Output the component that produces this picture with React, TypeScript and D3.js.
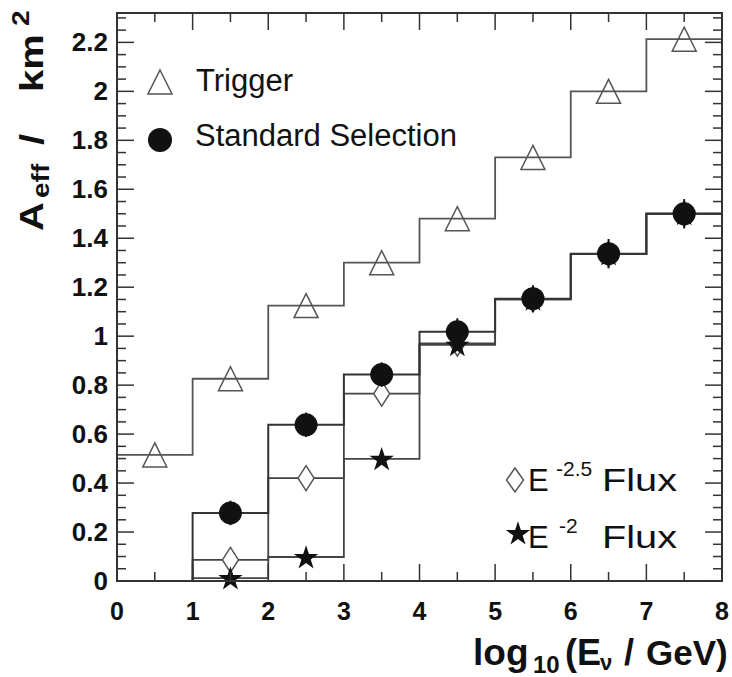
import * as d3 from 'd3';

// bin lower edges of log10(E/GeV), one bin per decade
const binEdges = [0, 1, 2, 3, 4, 5, 6, 7, 8];
const triggerVals = [0.515, 0.826, 1.125, 1.3, 1.48, 1.73, 2.0, 2.213];
const standardVals = [0, 0.278, 0.638, 0.843, 1.018, 1.153, 1.337, 1.5];
const standardErr = [0, 0.05, 0.05, 0.05, 0.055, 0.055, 0.06, 0.06];
const flux25Vals = [0, 0.086, 0.42, 0.765, 0.97, 1.15, 1.335, 1.5];
const flux2Vals = [0, 0.012, 0.098, 0.499, 0.965, 1.15, 1.335, 1.5];

const xTicks = [0, 1, 2, 3, 4, 5, 6, 7, 8];
const yTicks = [0, 0.2, 0.4, 0.6, 0.8, 1, 1.2, 1.4, 1.6, 1.8, 2, 2.2];

const FONT = '"Liberation Sans", Arial, Helvetica, sans-serif';

export default function App() {
    const width = 732;
    const height = 677;
    const left = 117, right = 722, top = 13, bottom = 581;

    const xScale = d3.scaleLinear().domain([0, 8]).range([left, right]);
    const yScale = d3.scaleLinear().domain([0, 2.32]).range([bottom, top]);

    const stepLine = (vals) => {
        const pts = [];
        vals.forEach((v, i) => {
            pts.push([binEdges[i], v]);
            pts.push([binEdges[i + 1], v]);
        });
        return d3.line()
            .x((d) => xScale(d[0]))
            .y((d) => yScale(d[1]))(pts);
    };

    const centers = binEdges.slice(0, -1).map((e) => e + 0.5);
    const minorX = d3.range(0, 8.01, 0.5).filter((v) => Math.abs(v - Math.round(v)) > 0.01);
    const minorY = d3.range(0, 2.31, 0.05).filter((v) => Math.abs(v * 5 - Math.round(v * 5)) > 0.01);

    const triPath = (s) => `M0,${-s * 0.5}L${s * 0.5},${s * 0.5}L${-s * 0.5},${s * 0.5}Z`;
    const diamondPath = (w, h) => `M0,${-h / 2}L${w / 2},0L0,${h / 2}L${-w / 2},0Z`;
    const star = d3.symbol().type(d3.symbolStar).size(185)();

    return (
        <svg width={width} height={height} style={{ display: 'block', position: 'absolute', left: 0, top: 0 }} fontFamily={FONT}>
            <rect x={0} y={0} width={width} height={height} fill="#fff" />

            {/* histograms */}
            <path d={stepLine(triggerVals)} fill="none" stroke="#555" strokeWidth={1.8} />
            <path d={stepLine(flux2Vals)} fill="none" stroke="#444" strokeWidth={1.8} />
            <path d={stepLine(flux25Vals)} fill="none" stroke="#444" strokeWidth={1.8} />
            <path d={stepLine(standardVals)} fill="none" stroke="#333" strokeWidth={2} />

            {/* markers */}
            {centers.map((c, i) => flux25Vals[i] > 0 && (
                <path key={'d' + i} d={diamondPath(16, 25)} transform={`translate(${xScale(c)},${yScale(flux25Vals[i])})`}
                    fill="#fff" stroke="#555" strokeWidth={1.5} />
            ))}
            {centers.map((c, i) => flux2Vals[i] > 0 && (
                <path key={'s' + i} d={star} transform={`translate(${xScale(c)},${yScale(flux2Vals[i]) + 1})`} fill="#111" />
            ))}
            {centers.map((c, i) => standardVals[i] > 0 && (
                <g key={'c' + i}>
                    <line x1={xScale(c)} x2={xScale(c)} y1={yScale(standardVals[i] - standardErr[i])}
                        y2={yScale(standardVals[i] + standardErr[i])} stroke="#111" strokeWidth={2} />
                    <circle cx={xScale(c)} cy={yScale(standardVals[i])} r={11.5} fill="#111" />
                </g>
            ))}
            {centers.map((c, i) => (
                <path key={'t' + i} d={triPath(24)} transform={`translate(${xScale(c)},${yScale(triggerVals[i])})`}
                    fill="none" stroke="#555" strokeWidth={1.5} />
            ))}

            {/* frame and ticks */}
            <rect x={left} y={top} width={right - left} height={bottom - top} fill="none" stroke="#333" strokeWidth={2} />
            {xTicks.map((t) => (
                <g key={'xt' + t}>
                    <line x1={xScale(t)} x2={xScale(t)} y1={bottom} y2={bottom - 17} stroke="#333" strokeWidth={1.5} />
                    <line x1={xScale(t)} x2={xScale(t)} y1={top} y2={top + 17} stroke="#333" strokeWidth={1.5} />
                    <text x={xScale(t)} y={620} textAnchor="middle" fontSize={25} fontWeight="bold" fill="#111">{t}</text>
                </g>
            ))}
            {minorX.map((t) => (
                <g key={'xm' + t}>
                    <line x1={xScale(t)} x2={xScale(t)} y1={bottom} y2={bottom - 9} stroke="#333" strokeWidth={1.5} />
                    <line x1={xScale(t)} x2={xScale(t)} y1={top} y2={top + 9} stroke="#333" strokeWidth={1.5} />
                </g>
            ))}
            {yTicks.map((t) => (
                <g key={'yt' + t}>
                    <line x1={left} x2={left + 17} y1={yScale(t)} y2={yScale(t)} stroke="#333" strokeWidth={1.5} />
                    <line x1={right} x2={right - 17} y1={yScale(t)} y2={yScale(t)} stroke="#333" strokeWidth={1.5} />
                    <text x={108} y={yScale(t) + 9} textAnchor="end" fontSize={26} fontWeight="bold" fill="#111">
                        {d3.format('~g')(t)}
                    </text>
                </g>
            ))}
            {minorY.map((t) => (
                <g key={'ym' + t}>
                    <line x1={left} x2={left + 9} y1={yScale(t)} y2={yScale(t)} stroke="#333" strokeWidth={1.5} />
                    <line x1={right} x2={right - 9} y1={yScale(t)} y2={yScale(t)} stroke="#333" strokeWidth={1.5} />
                </g>
            ))}

            {/* legend, upper left */}
            <path d={triPath(24)} transform="translate(160,82)" fill="none" stroke="#555" strokeWidth={1.5} />
            <text x={196} y={91} fontSize={31} fill="#111">Trigger</text>
            <circle cx={160} cy={140} r={12} fill="#111" />
            <text x={195} y={146} fontSize={31} fill="#111">Standard Selection</text>

            {/* legend, lower right */}
            <path d={diamondPath(17, 24)} transform="translate(515,480)" fill="#fff" stroke="#555" strokeWidth={1.5} />
            <text x={528} y={491} fontSize={31} fill="#111">E</text>
            <text x={556} y={476} fontSize={21} fill="#111">-2.5</text>
            <text x={602} y={491} fontSize={31} fill="#111" textLength={75} lengthAdjust="spacingAndGlyphs">Flux</text>
            <path d={star} transform="translate(518,534)" fill="#111" />
            <text x={528} y={548} fontSize={31} fill="#111">E</text>
            <text x={559} y={533} fontSize={21} fill="#111">-2</text>
            <text x={602} y={548} fontSize={31} fill="#111" textLength={75} lengthAdjust="spacingAndGlyphs">Flux</text>

            {/* axis titles */}
            <g fontWeight="bold" fill="#111">
                <text x={473} y={665} fontSize={37}>log</text>
                <text x={533} y={673} fontSize={24}>10</text>
                <text x={565} y={665} fontSize={36}>(E</text>
                <text x={600} y={670} fontSize={22}>ν</text>
                <text x={624} y={665} fontSize={36}>/</text>
                <text x={646} y={665} fontSize={35}>GeV)</text>
            </g>
            <g fontWeight="bold" fill="#111" transform="translate(43,231) rotate(-90) scale(1,0.85)">
                <text x={0} y={0} fontSize={40}>A</text>
                <text x={33} y={7} fontSize={28}>eff</text>
                <text x={86} y={0} fontSize={40}>/</text>
                <text x={139} y={0} fontSize={40}>km</text>
                <text x={205} y={-17} fontSize={28}>2</text>
            </g>
        </svg>
    );
}
